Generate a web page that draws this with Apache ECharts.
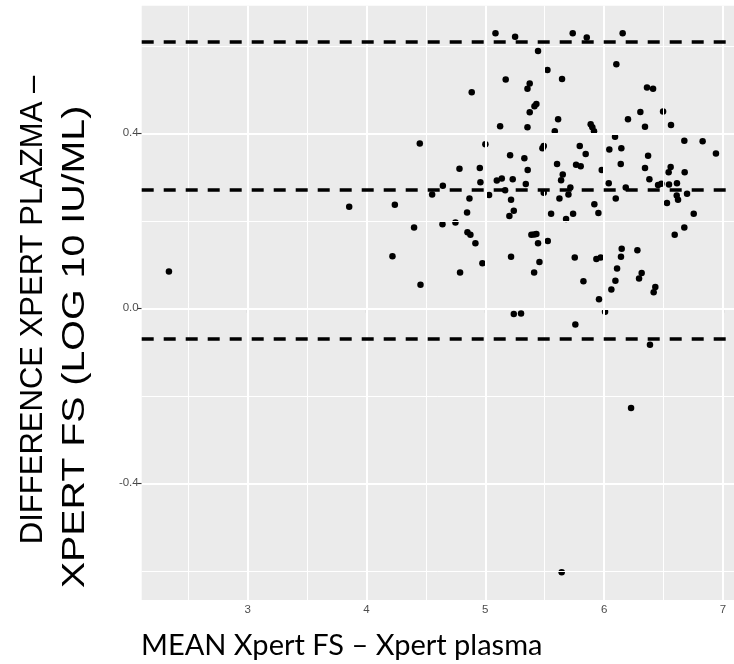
<!DOCTYPE html>
<html><head><meta charset="utf-8">
<script src="https://cdn.jsdelivr.net/npm/echarts@6/dist/echarts.min.js"></script>
<style>html,body{margin:0;padding:0;background:#fff}#c{width:734px;height:664px}</style>
</head><body><div id="c"></div>
<script>
// Mean of the two methods (x) and their difference (y)
const meanVals = [
4.449,3.855,4.239,4.553,2.338,4.401,4.219,4.455,
5.086,5.251,5.736,5.854,6.156,5.444,5.523,6.103,4.886,5.172,
5.355,5.374,5.646,6.361,6.412,5.414,5.430,5.374,5.613,5.125,
5.355,5.585,5.887,5.901,5.915,6.201,6.305,6.344,6.496,6.563,
6.092,5.001,5.481,5.492,5.795,5.845,6.044,6.145,6.675,6.829,
6.941,5.209,5.329,6.370,4.783,4.954,5.357,5.604,5.764,5.803,
5.980,6.140,6.344,6.543,6.560,6.678,4.643,4.959,5.097,5.139,
5.231,5.341,5.652,5.638,5.716,6.039,6.182,6.381,6.454,6.482,
6.546,6.613,4.867,5.032,5.167,5.217,5.492,5.624,5.700,6.098,
6.611,6.622,6.698,
6.529,5.918,4.640,4.749,4.847,5.203,5.240,5.554,5.680,5.739,
5.952,6.754,4.850,4.875,4.917,5.388,5.411,5.430,5.444,5.526,
6.594,6.675,4.788,4.976,5.217,5.411,5.456,5.753,5.935,5.971,
6.148,6.142,6.280,6.109,6.095,6.061,6.294,6.316,5.826,6.431,
6.417,5.957,6.008,5.240,5.301,5.758,6.386,6.227,5.643
];
const diffVals = [
0.377,0.232,0.237,0.260,0.084,0.185,0.119,0.054,
0.629,0.621,0.629,0.619,0.629,0.588,0.545,0.558,0.494,0.523,
0.502,0.514,0.524,0.505,0.502,0.462,0.467,0.448,0.432,0.416,
0.414,0.405,0.421,0.414,0.405,0.432,0.449,0.415,0.450,0.419,
0.392,0.375,0.366,0.371,0.371,0.353,0.363,0.366,0.383,0.382,
0.354,0.350,0.343,0.349,0.319,0.321,0.316,0.330,0.328,0.325,
0.316,0.330,0.321,0.311,0.323,0.311,0.280,0.288,0.292,0.297,
0.295,0.284,0.306,0.293,0.276,0.286,0.276,0.295,0.282,0.285,
0.283,0.286,0.251,0.259,0.270,0.248,0.264,0.251,0.260,0.251,
0.258,0.248,0.262,
0.241,0.238,0.192,0.196,0.219,0.211,0.223,0.216,0.204,0.216,
0.218,0.216,0.174,0.168,0.149,0.168,0.169,0.170,0.149,0.154,
0.168,0.185,0.082,0.103,0.118,0.082,0.106,0.116,0.113,0.116,
0.136,0.118,0.133,0.091,0.063,0.043,0.068,0.081,0.062,0.049,
0.037,0.021,-0.008,-0.013,-0.012,-0.037,-0.083,-0.228,-0.603
];
// upper limit of agreement, mean difference, lower limit of agreement
const limitLines = [0.613, 0.270, -0.071];
const xTicks = [3, 4, 5, 6, 7];
const xMinor = [2.5, 3.5, 4.5, 5.5, 6.5];
const yTicks = [-0.4, 0.0, 0.4];
const yMinor = [-0.6, -0.2, 0.2, 0.6];
const xRange = [2.109, 7.093];
const yRange = [-0.6667, 0.6917];
const xTitle = 'MEAN Xpert FS – Xpert plasma';
const yTitle1 = 'DIFFERENCE XPERT PLAZMA –';
const yTitle2 = 'XPERT FS (LOG 10 IU/ML)';

const points = meanVals.map((x, i) => [x, diffVals[i]]);

const chart = echarts.init(document.getElementById('c'), null, {renderer: 'canvas'});
const vLine = (v, w) => [{coord: [v, yRange[0]], lineStyle: {width: w}}, {coord: [v, yRange[1]]}];
const hLine = (v, w) => [{coord: [xRange[0], v], lineStyle: {width: w}}, {coord: [xRange[1], v]}];
const gridLines = [].concat(
  xMinor.map(v => vLine(v, 1.0)),
  yMinor.map(v => hLine(v, 1.0)),
  xTicks.map(v => vLine(v, 2.0)),
  yTicks.map(v => hLine(v, 2.0))
);
chart.setOption({
  animation: false,
  grid: {left: 141.7, right: 0, top: 5.7, bottom: 64, show: true, backgroundColor: '#EBEBEB', borderWidth: 0},
  xAxis: {
    type: 'value', min: xRange[0], max: xRange[1],
    splitLine: {show: false}, axisLine: {show: false},
    axisTick: {show: true, customValues: xTicks, length: 4.5, lineStyle: {color: '#333', width: 1.1}},
    axisLabel: {customValues: xTicks, color: '#4D4D4D', fontSize: 11.5, margin: 4, fontFamily: 'Liberation Sans'}
  },
  yAxis: {
    type: 'value', min: yRange[0], max: yRange[1],
    splitLine: {show: false}, axisLine: {show: false},
    axisTick: {show: true, customValues: yTicks, length: 4.5, lineStyle: {color: '#333', width: 1.1}},
    axisLabel: {customValues: yTicks, color: '#4D4D4D', fontSize: 11.5, margin: 3, fontFamily: 'Liberation Sans',
      formatter: v => Number(v).toFixed(1)}
  },
  graphic: [
    {type: 'text', x: 141, y: 646,
      style: {text: xTitle, font: '29px Lato', fill: '#000', align: 'left', verticalAlign: 'middle'}},
    {type: 'text', x: 33, y: 310, rotation: Math.PI / 2, scaleX: 0.97,
      style: {text: yTitle1, font: '32px "Liberation Sans"', fill: '#000', align: 'center', verticalAlign: 'middle'}},
    {type: 'text', x: 75, y: 347, rotation: Math.PI / 2, scaleX: 1.23,
      style: {text: yTitle2, font: '32px "Liberation Sans"', fill: '#000', align: 'center', verticalAlign: 'middle'}}
  ],
  series: [
    {type: 'scatter', data: [], z: 1, silent: true,
      markLine: {silent: true, symbol: ['none', 'none'], label: {show: false},
        lineStyle: {color: '#FFFFFF', type: 'solid'}, data: gridLines}},
    {type: 'scatter', data: points, z: 3, symbolSize: 6.5, itemStyle: {color: '#000', opacity: 1}, silent: true},
    {type: 'scatter', data: [], z: 4, silent: true,
      markLine: {silent: true, symbol: ['none', 'none'], label: {show: false},
        lineStyle: {color: '#000', type: [12, 10], width: 3.5, cap: 'butt'},
        data: limitLines.map(v => ({yAxis: v}))}}
  ]
});
</script></body></html>
